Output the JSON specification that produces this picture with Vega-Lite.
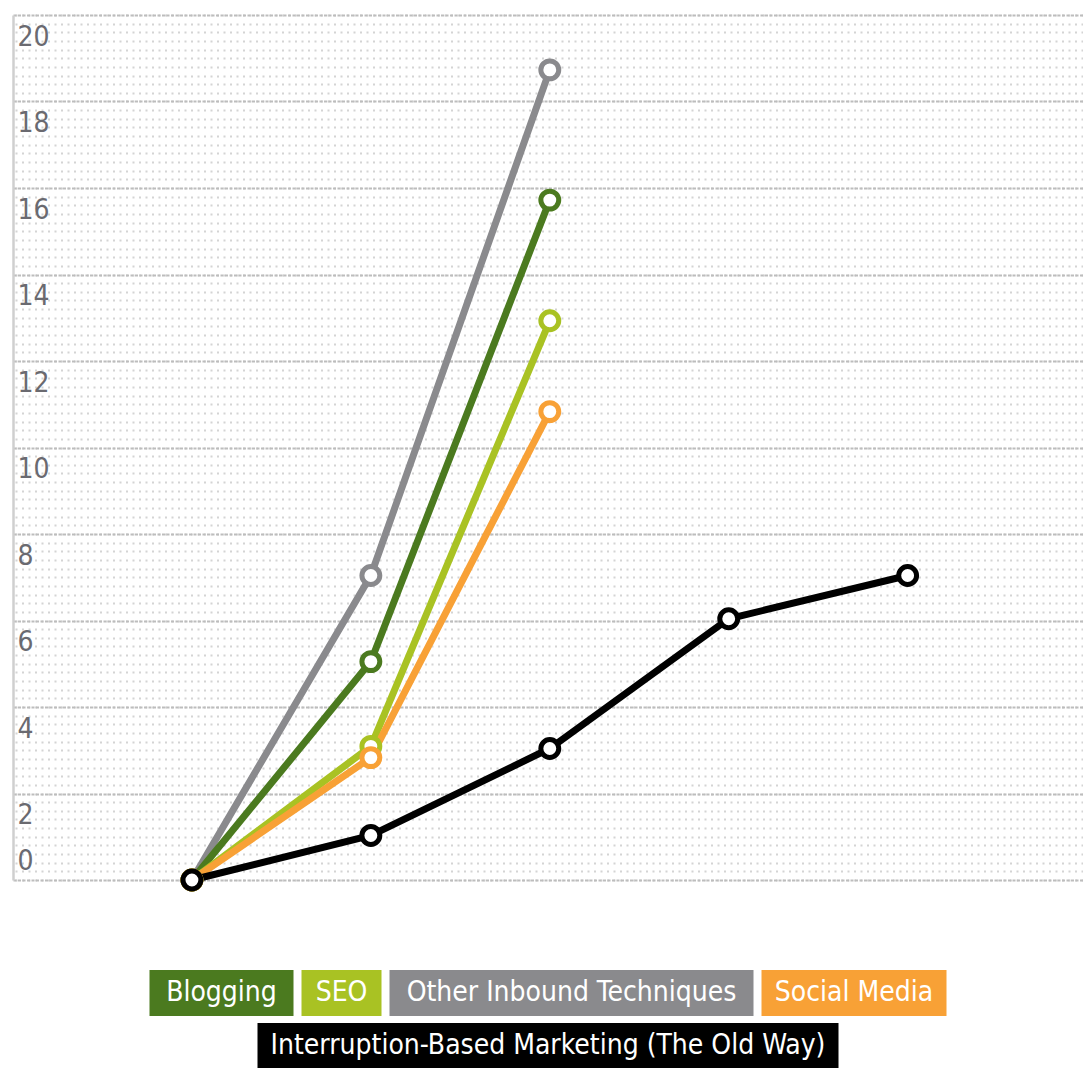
{
  "$schema": "https://vega.github.io/schema/vega-lite/v6.json",
  "autosize": {"type": "pad"},
  "padding": {"left": 13, "top": 15, "right": 0, "bottom": 0},
  "background": "white",
  "config": {"view": {"stroke": null}},
  "datasets": {
    "d": [
      {"series": "Other Inbound Techniques", "step": 0, "value": 0},
      {"series": "Other Inbound Techniques", "step": 1, "value": 7.04},
      {"series": "Other Inbound Techniques", "step": 2, "value": 18.73},
      {"series": "Blogging", "step": 0, "value": 0},
      {"series": "Blogging", "step": 1, "value": 5.05},
      {"series": "Blogging", "step": 2, "value": 15.72},
      {"series": "SEO", "step": 0, "value": 0},
      {"series": "SEO", "step": 1, "value": 3.09},
      {"series": "SEO", "step": 2, "value": 12.93},
      {"series": "Social Media", "step": 0, "value": 0},
      {"series": "Social Media", "step": 1, "value": 2.83},
      {"series": "Social Media", "step": 2, "value": 10.83},
      {"series": "Interruption-Based Marketing (The Old Way)", "step": 0, "value": 0},
      {"series": "Interruption-Based Marketing (The Old Way)", "step": 1, "value": 1.03},
      {"series": "Interruption-Based Marketing (The Old Way)", "step": 2, "value": 3.04},
      {"series": "Interruption-Based Marketing (The Old Way)", "step": 3, "value": 6.04},
      {"series": "Interruption-Based Marketing (The Old Way)", "step": 4, "value": 7.04}
    ],
    "legend": [
      {"series": "Blogging"},
      {"series": "SEO"},
      {"series": "Other Inbound Techniques"},
      {"series": "Social Media"},
      {"series": "Interruption-Based Marketing (The Old Way)"}
    ]
  },
  "spacing": 71,
  "center": true,
  "vconcat": [
    {
      "data": {"name": "d"},
      "width": 1070,
      "height": 865,
      "layer": [
        {
          "mark": {"type": "line", "strokeWidth": 7},
          "encoding": {
            "x": {"field": "step", "type": "quantitative", "scale": {"domain": [-1, 4.98], "nice": false, "zero": false}, "axis": null},
            "y": {"field": "value", "type": "quantitative", "scale": {"domain": [0, 20], "nice": false},
              "axis": {"orient": "right", "tickCount": 100, "grid": true, "gridColor": "#d4d4d4", "gridDash": [2, 4.5], "gridWidth": 2, "labels": false, "ticks": false, "domain": false, "title": null}},
            "color": {"field": "series", "type": "nominal",
              "scale": {"domain": ["Blogging", "SEO", "Other Inbound Techniques", "Social Media", "Interruption-Based Marketing (The Old Way)"], "range": ["#4b7a1f", "#a9c223", "#8a8a8d", "#f8a136", "#000000"]},
              "legend": null}
          }
        },
        {
          "mark": {"type": "point", "filled": false, "fill": "white", "fillOpacity": 1, "strokeWidth": 5, "size": 320, "opacity": 1},
          "encoding": {
            "x": {"field": "step", "type": "quantitative", "scale": {"domain": [-1, 4.98], "nice": false, "zero": false},
              "axis": {"orient": "bottom", "values": [0, 1, 2, 3, 4], "grid": true, "gridColor": "#c2c2c2", "gridDash": [3, 1.5], "gridWidth": 2, "domain": true, "domainColor": "#8f8f8f", "domainWidth": 2.5, "ticks": false, "labels": false, "title": null}},
            "y": {"field": "value", "type": "quantitative", "scale": {"domain": [0, 20], "nice": false},
              "axis": {"orient": "left", "values": [0, 2, 4, 6, 8, 10, 12, 14, 16, 18, 20], "grid": true, "gridColor": "#bdbdbd", "gridDash": [3, 1.5], "gridWidth": 2,
                "domain": true, "domainColor": "#cfcfcf", "domainWidth": 2.5, "ticks": false, "tickSize": 0,
                "labelAlign": "left", "labelBaseline": "middle", "labelPadding": -4,
                "labelFont": "DejaVu Sans Condensed, DejaVu Sans, sans-serif", "labelFontSize": 28, "labelColor": "#6a6a70",
                "labelOffset": {"condition": {"test": "datum.value === 0", "value": -19}, "value": 22},
                "title": null}},
            "stroke": {"field": "series", "type": "nominal",
              "scale": {"domain": ["Blogging", "SEO", "Other Inbound Techniques", "Social Media", "Interruption-Based Marketing (The Old Way)"], "range": ["#4b7a1f", "#a9c223", "#8a8a8d", "#f8a136", "#000000"]},
              "legend": null}
          }
        }
      ]
    },
    {
      "spacing": 7,
      "center": true,
      "vconcat": [
        {
          "spacing": 8,
          "hconcat": [
            {
              "data": {"name": "legend"}, "transform": [{"filter": "datum.series === 'Blogging'"}],
              "width": 144, "height": 46,
              "layer": [
                {"mark": "rect", "encoding": {"color": {"field": "series", "type": "nominal", "scale": {"domain": ["Blogging", "SEO", "Other Inbound Techniques", "Social Media", "Interruption-Based Marketing (The Old Way)"], "range": ["#4b7a1f", "#a9c223", "#8a8a8d", "#f8a136", "#000000"]}, "legend": null}}},
                {"mark": {"type": "text", "color": "white", "font": "DejaVu Sans Condensed, DejaVu Sans, sans-serif", "fontSize": 28}, "encoding": {"text": {"field": "series", "type": "nominal"}}}
              ]
            },
            {
              "data": {"name": "legend"}, "transform": [{"filter": "datum.series === 'SEO'"}],
              "width": 80, "height": 46,
              "layer": [
                {"mark": "rect", "encoding": {"color": {"field": "series", "type": "nominal", "scale": {"domain": ["Blogging", "SEO", "Other Inbound Techniques", "Social Media", "Interruption-Based Marketing (The Old Way)"], "range": ["#4b7a1f", "#a9c223", "#8a8a8d", "#f8a136", "#000000"]}, "legend": null}}},
                {"mark": {"type": "text", "color": "white", "font": "DejaVu Sans Condensed, DejaVu Sans, sans-serif", "fontSize": 28}, "encoding": {"text": {"field": "series", "type": "nominal"}}}
              ]
            },
            {
              "data": {"name": "legend"}, "transform": [{"filter": "datum.series === 'Other Inbound Techniques'"}],
              "width": 364, "height": 46,
              "layer": [
                {"mark": "rect", "encoding": {"color": {"field": "series", "type": "nominal", "scale": {"domain": ["Blogging", "SEO", "Other Inbound Techniques", "Social Media", "Interruption-Based Marketing (The Old Way)"], "range": ["#4b7a1f", "#a9c223", "#8a8a8d", "#f8a136", "#000000"]}, "legend": null}}},
                {"mark": {"type": "text", "color": "white", "font": "DejaVu Sans Condensed, DejaVu Sans, sans-serif", "fontSize": 28}, "encoding": {"text": {"field": "series", "type": "nominal"}}}
              ]
            },
            {
              "data": {"name": "legend"}, "transform": [{"filter": "datum.series === 'Social Media'"}],
              "width": 185, "height": 46,
              "layer": [
                {"mark": "rect", "encoding": {"color": {"field": "series", "type": "nominal", "scale": {"domain": ["Blogging", "SEO", "Other Inbound Techniques", "Social Media", "Interruption-Based Marketing (The Old Way)"], "range": ["#4b7a1f", "#a9c223", "#8a8a8d", "#f8a136", "#000000"]}, "legend": null}}},
                {"mark": {"type": "text", "color": "white", "font": "DejaVu Sans Condensed, DejaVu Sans, sans-serif", "fontSize": 28}, "encoding": {"text": {"field": "series", "type": "nominal"}}}
              ]
            }
          ]
        },
        {
          "data": {"name": "legend"}, "transform": [{"filter": "datum.series === 'Interruption-Based Marketing (The Old Way)'"}],
          "width": 581, "height": 46,
          "layer": [
            {"mark": "rect", "encoding": {"color": {"field": "series", "type": "nominal", "scale": {"domain": ["Blogging", "SEO", "Other Inbound Techniques", "Social Media", "Interruption-Based Marketing (The Old Way)"], "range": ["#4b7a1f", "#a9c223", "#8a8a8d", "#f8a136", "#000000"]}, "legend": null}}},
            {"mark": {"type": "text", "color": "white", "font": "DejaVu Sans Condensed, DejaVu Sans, sans-serif", "fontSize": 28}, "encoding": {"text": {"field": "series", "type": "nominal"}}}
          ]
        }
      ]
    }
  ]
}
